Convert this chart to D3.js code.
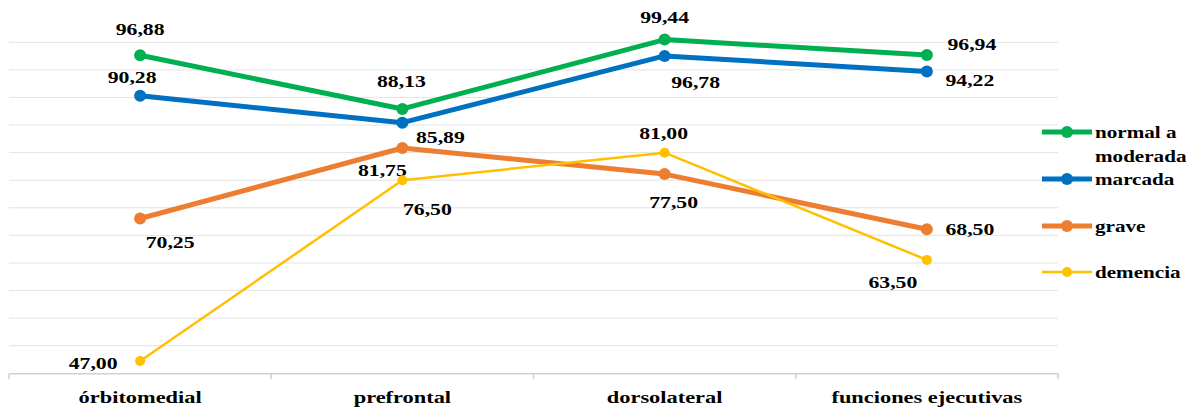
<!DOCTYPE html>
<html>
<head>
<meta charset="utf-8">
<script src="https://cdn.jsdelivr.net/npm/d3@7/dist/d3.min.js"></script>
<style>
  html, body { margin: 0; padding: 0; background: #fff; }
  svg { display: block; }
</style>
</head>
<body>
<svg id="chart" width="1198" height="408"></svg>
<script>
// Categories (x axis)
const categories = ["órbitomedial", "prefrontal", "dorsolateral", "funciones ejecutivas"];

// Series values
const normalModerada = [96.88, 88.13, 99.44, 96.94];
const marcada = [90.28, 85.89, 96.78, 94.22];
const grave = [70.25, 81.75, 77.50, 68.50];
const demencia = [47.00, 76.50, 81.00, 63.50];

// Horizontal gridline values
const gridValues = [45, 49.5, 54, 58.5, 63, 67.5, 72, 76.5, 81, 85.5, 90, 94.5, 99];

const series = [
  { name: ["normal a", "moderada"], values: normalModerada, color: "#00B050", width: 5, r: 6,
    labelOffsets: [[0, -20], [-1, -22], [0, -17], [45, -5]] },
  { name: ["marcada"], values: marcada, color: "#0070C0", width: 5, r: 6,
    labelOffsets: [[-8, -13], [38, 20], [31, 32], [43, 14]] },
  { name: ["grave"], values: grave, color: "#ED7D31", width: 5, r: 6,
    labelOffsets: [[30, 29], [-20, 28], [9, 34], [43, 6]] },
  { name: ["demencia"], values: demencia, color: "#FFC000", width: 2.5, r: 5,
    labelOffsets: [[-47, 8], [25, 35], [-1, -14], [-34, 28]] }
];

const FONT = "Liberation Serif";

const svg = d3.select("#chart");
const plot = { left: 9, right: 1058, top: 42.3, bottom: 373.3 };

const x = d3.scaleBand().domain(categories).range([plot.left, plot.right]);
const y = d3.scaleLinear().domain([45, 99]).range([plot.bottom, plot.top]);
const cx = c => x(c) + x.bandwidth() / 2;

const fmt = v => d3.format(".2f")(v).replace(".", ",");
const stretch = 1.28;

// gridlines
svg.append("g")
  .selectAll("line")
  .data(gridValues.slice(1))
  .join("line")
  .attr("x1", plot.left).attr("x2", plot.right)
  .attr("y1", d => y(d)).attr("y2", d => y(d))
  .attr("stroke", "#e3e3e3").attr("stroke-width", 1);

// x axis
const xAxis = svg.append("g")
  .attr("transform", `translate(0,${y(45)})`)
  .call(d3.axisBottom(x).tickSize(0).tickFormat(""));
xAxis.select(".domain").attr("stroke", "#d0d0d0").attr("stroke-width", 1.5);
// category boundary ticks
const bounds = categories.map(c => x(c)).concat([plot.right]);
xAxis.append("g").selectAll("line")
  .data(bounds)
  .join("line")
  .attr("x1", d => d).attr("x2", d => d)
  .attr("y1", 0).attr("y2", 6)
  .attr("stroke", "#d0d0d0").attr("stroke-width", 1.5);

// category labels
svg.append("g").selectAll("text")
  .data(categories)
  .join("text")
  .attr("transform", d => `translate(${cx(d)},${y(45) + 30}) scale(${stretch},1)`)
  .attr("text-anchor", "middle")
  .attr("font-family", FONT)
  .attr("font-weight", "bold")
  .attr("font-size", 17.5)
  .attr("fill", "#000")
  .text(d => d);

const line = d3.line().x(d => cx(d.c)).y(d => y(d.v));

series.forEach(s => {
  const pts = s.values.map((v, i) => ({ c: categories[i], v, off: s.labelOffsets[i] }));
  const g = svg.append("g");
  g.append("path")
    .datum(pts)
    .attr("d", line)
    .attr("fill", "none")
    .attr("stroke", s.color)
    .attr("stroke-width", s.width)
    .attr("stroke-linejoin", "round");
  g.selectAll("circle")
    .data(pts)
    .join("circle")
    .attr("cx", d => cx(d.c)).attr("cy", d => y(d.v))
    .attr("r", s.r)
    .attr("fill", s.color);
  g.selectAll("text")
    .data(pts)
    .join("text")
    .attr("transform", d => `translate(${cx(d.c) + d.off[0]},${y(d.v) + d.off[1]}) scale(${stretch},1)`)
    .attr("text-anchor", "middle")
    .attr("font-family", FONT)
    .attr("font-weight", "bold")
    .attr("font-size", 17)
    .attr("fill", "#000")
    .text(d => fmt(d.v));
});

// legend
const legendY = [132, 179, 226, 272];
const legend = svg.append("g");
series.forEach((s, i) => {
  const ly = legendY[i];
  legend.append("line")
    .attr("x1", 1042).attr("x2", 1092)
    .attr("y1", ly).attr("y2", ly)
    .attr("stroke", s.color).attr("stroke-width", s.width);
  legend.append("circle")
    .attr("cx", 1067).attr("cy", ly).attr("r", s.r).attr("fill", s.color);
  s.name.forEach((t, j) => {
    legend.append("text")
      .attr("transform", `translate(1095,${ly + 6 + j * 24}) scale(${stretch},1)`)
      .attr("font-family", FONT)
      .attr("font-weight", "bold")
      .attr("font-size", 16.5)
      .attr("fill", "#000")
      .text(t);
  });
});
</script>
</body>
</html>
